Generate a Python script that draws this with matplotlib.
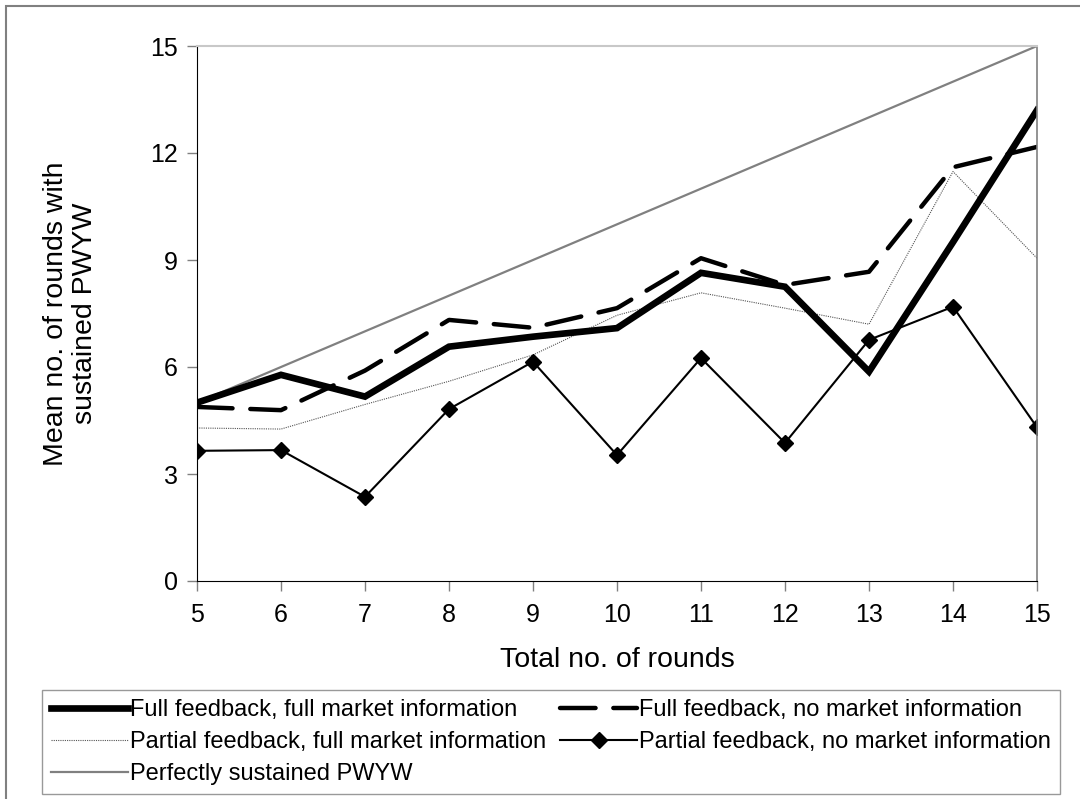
import matplotlib
matplotlib.use('Agg')
from matplotlib import pyplot as plt
from matplotlib.patches import Rectangle

plt.rcParams['font.family'] = ['Liberation Sans', 'DejaVu Sans']

rounds = [5, 6, 7, 8, 9, 10, 11, 12, 13, 14, 15]
full_full = [5.0, 5.78, 5.17, 6.57, 6.85, 7.09, 8.64, 8.25, 5.87, 9.5, 13.2]
full_none = [4.88, 4.79, 5.9, 7.32, 7.1, 7.65, 9.05, 8.3, 8.67, 11.6, 12.17]
part_full = [4.29, 4.26, 4.95, 5.6, 6.34, 7.45, 8.08, 7.65, 7.2, 11.48, 9.05]
part_none = [3.65, 3.67, 2.36, 4.82, 6.15, 3.53, 6.25, 3.87, 6.76, 7.69, 4.31]
perfect = [5, 6, 7, 8, 9, 10, 11, 12, 13, 14, 15]

fig = plt.figure(figsize=(10.8, 7.99), dpi=100)
ax = fig.add_axes([197/1080, 1-581/799, (1037-197)/1080, (581-46)/799])

l_perf, = ax.plot(rounds, perfect, color='#808080', lw=1.6, label='Perfectly sustained PWYW')
l_pf, = ax.plot(rounds, part_full, color='#555555', lw=0.8, ls=(0, (1, 1)),
                label='Partial feedback, full market information')
l_pn, = ax.plot(rounds, part_none, color='black', lw=1.5, marker='D', ms=8.5,
                label='Partial feedback, no market information')
l_fn, = ax.plot(rounds, full_none, color='black', lw=3.2, ls=(0, (8, 4)),
                dash_capstyle='round', label='Full feedback, no market information')
l_ff, = ax.plot(rounds, full_full, color='black', lw=4.8, solid_joinstyle='miter',
                label='Full feedback, full market information')

ax.set_xlim(5, 15)
ax.set_ylim(0, 15)
ax.set_xticks(rounds)
ax.set_yticks([0, 3, 6, 9, 12, 15])
ax.tick_params(labelsize=18, length=7, width=1.0, color='#808080', pad=7)
ax.tick_params(axis='x', pad=9)
ax.spines['left'].set_color('black')
ax.spines['bottom'].set_color('black')
ax.spines['top'].set_color('#c8c8c8')
ax.spines['top'].set_linewidth(1.5)
ax.spines['right'].set_color('#808080')
ax.spines['right'].set_linewidth(1.2)
ax.set_xlabel('Total no. of rounds', fontsize=20.5, labelpad=14)
ax.set_ylabel('Mean no. of rounds with\nsustained PWYW', fontsize=20.5, linespacing=1.15)
ax.yaxis.set_label_coords((98-197)/840, 0.5)

handles = [l_ff, l_pf, l_perf, l_fn, l_pn]
leg = fig.legend(handles, [h.get_label() for h in handles],
                 ncol=2, loc='upper left',
                 bbox_to_anchor=(42/1080, 1-690/799),
                 fontsize=17, frameon=True, fancybox=False, edgecolor='#808080',
                 handlelength=3.25, handletextpad=0.1, borderaxespad=0,
                 labelspacing=0.43, borderpad=0.38, columnspacing=0.6)
leg.get_frame().set_linewidth(1.0)

# outer chart border
fig.patches.append(Rectangle((6/1080, -0.01), 1.1, 1-6/799+0.01, transform=fig.transFigure,
                             fill=False, edgecolor='#808080', lw=1.5))

fig.savefig('out.png', dpi=100)
